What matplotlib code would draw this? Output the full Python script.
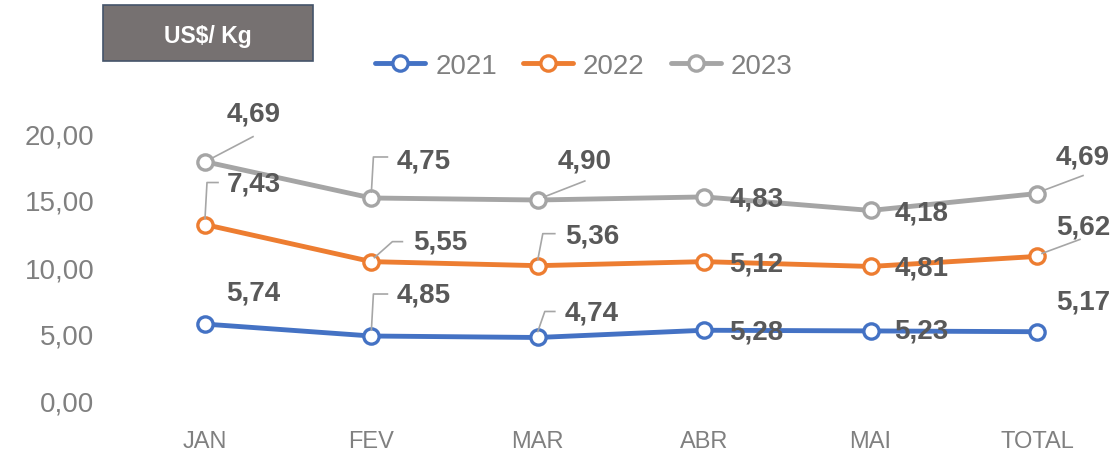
import matplotlib
matplotlib.use('Agg')
import matplotlib.pyplot as plt
import matplotlib.transforms as mtransforms
from matplotlib.lines import Line2D
from matplotlib.patches import Rectangle
import numpy as np

#Chart data (values per year, plotted stacked like the Excel original)
months = ['JAN', 'FEV', 'MAR', 'ABR', 'MAI', 'TOTAL']
v2021 = [5.74, 4.85, 4.74, 5.28, 5.23, 5.17]
v2022 = [7.43, 5.55, 5.36, 5.12, 4.81, 5.62]
v2023 = [4.69, 4.75, 4.90, 4.83, 4.18, 4.69]
years = ['2021', '2022', '2023']
y_ticks = [0, 5, 10, 15, 20]

colors = ['#4472C4', '#ED7D31', '#A5A5A5']
label_color = '#595959'
tick_color = '#808080'
leader_color = '#A6A6A6'

#label offsets in pixels (dx right, dy down) from each point
label_offsets = [
    [(48, -32), (52, -42), (54, -25), (52, 1), (51, 0), (46, -30)],
    [(49, -41), (69, -20), (54, -30), (52, 2), (51, 1), (46, -30)],
    [(49, -48), (52, -37), (47, -39), (52, 2), (51, 2), (46, -37)],
]
#leader lines (pixel polylines from the point), keyed by (series, month)
leaders = {
    (0, 1): [(0, -6), (2, -42), (16, -42)],
    (0, 2): [(0, -6), (7, -26), (17, -26)],
    (1, 0): [(0, -6), (2, -42), (13, -42)],
    (1, 1): [(3, -4), (21, -20), (31, -20)],
    (1, 2): [(0, -6), (5, -32), (17, -32)],
    (1, 5): [(5, -3), (43, -17)],
    (2, 0): [(6, -3), (48, -25)],
    (2, 1): [(0, -6), (2, -41), (16, -41)],
    (2, 2): [(6, -3), (47, -19)],
    (2, 5): [(6, -3), (46, -18)],
}

W, H = 1111, 456
fig = plt.figure(figsize=(W / 100, H / 100), dpi=100)

#axes placed in pixels: value 0 at y=402, JAN at x=205, TOTAL at x=1037
ax_left, ax_right = 140, 1100
ax_bottom, ax_top = 402, 107
ax = fig.add_axes([ax_left / W, (H - ax_bottom) / H,
                   (ax_right - ax_left) / W, (ax_bottom - ax_top) / H])
step = (1037 - 205) / 5
ax.set_xlim(-(205 - ax_left) / step, 5 + (ax_right - 1037) / step)
ax.set_ylim(0, (ax_bottom - ax_top) / 13.4)

x = np.arange(len(months))
series = [np.array(v2021), np.array(v2022), np.array(v2023)]
cum = np.cumsum(series, axis=0)

handles = []
for i in range(3):
    h, = ax.plot(x, cum[i], color=colors[i], lw=3.5, marker='o', ms=11,
                 mfc='white', mec=colors[i], mew=2.4, label=years[i], zorder=3,
                 solid_capstyle='round')
    handles.append(h)

fig.canvas.draw()
ident = mtransforms.IdentityTransform()
for i in range(3):
    for j in range(len(months)):
        px, py = ax.transData.transform((x[j], cum[i][j]))
        dx, dy = label_offsets[i][j]
        ax.annotate(f'{series[i][j]:.2f}'.replace('.', ','), (x[j], cum[i][j]),
                    xytext=(dx, -dy), textcoords='offset pixels',
                    ha='center', va='center', fontsize=20, fontweight='bold',
                    color=label_color, family=['Liberation Sans', 'DejaVu Sans'],
                    zorder=5)
        if (i, j) in leaders:
            pts = leaders[(i, j)]
            lx = [px + p[0] for p in pts]
            ly = [py - p[1] for p in pts]
            fig.add_artist(Line2D(lx, ly, color=leader_color, lw=1.2,
                                  transform=ident, zorder=4))

ax.set_xticks(x)
ax.set_xticklabels(months, family=['Liberation Sans', 'DejaVu Sans'],
                   fontsize=17, color=tick_color)
ax.set_yticks(y_ticks)
ax.set_yticklabels([f'{t:.2f}'.replace('.', ',') for t in y_ticks],
                   family=['Liberation Sans', 'DejaVu Sans'], fontsize=20,
                   color=tick_color)
ax.tick_params(axis='both', length=0)
ax.tick_params(axis='x', pad=21)
ax.tick_params(axis='y', pad=33)
for s in ax.spines.values():
    s.set_visible(False)

fig.legend(handles=handles, loc='center', bbox_to_anchor=(584 / W, 1 - 67 / H),
           ncol=3, frameon=False, handlelength=1.8, handletextpad=0.35,
           columnspacing=0.95, prop={'family': 'Liberation Sans', 'size': 20},
           labelcolor=tick_color)

#title box
fig.add_artist(Rectangle((103 / W, 1 - 62 / H), 210 / W, 56 / H,
                         transform=fig.transFigure, facecolor='#767171',
                         edgecolor='#44546A', lw=1.2))
fig.text(208 / W, 1 - 36 / H, 'US$/ Kg', ha='center', va='center', color='white',
         fontsize=16.5, fontweight='bold',
         family=['Liberation Sans', 'DejaVu Sans'])

fig.savefig('out.png', dpi=100)
